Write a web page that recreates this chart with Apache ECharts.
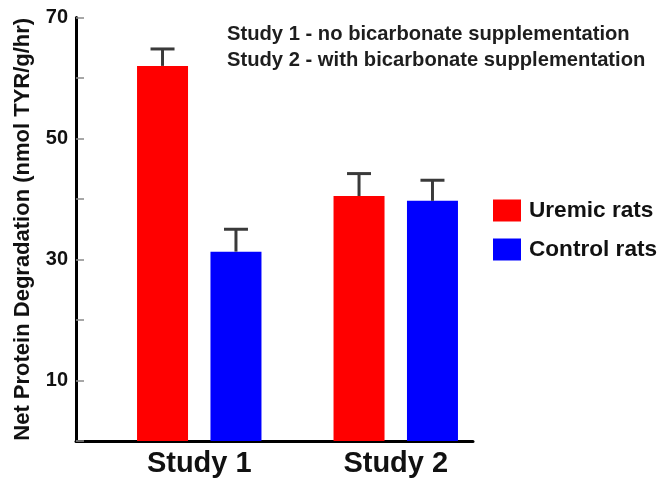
<!DOCTYPE html>
<html>
<head>
<meta charset="utf-8">
<script src="https://cdn.jsdelivr.net/npm/echarts@6/dist/echarts.min.js"></script>
<style>
  html, body { margin: 0; padding: 0; background: #fff; }
  #chart { width: 661px; height: 483px; }
</style>
</head>
<body>
<div id="chart"></div>
<script>
// Net protein degradation, uremic vs control rats, two studies
const categories = ['Study 1', 'Study 2'];
const seriesNames = ['Uremic rats', 'Control rats'];
const uremicRats = [62.0, 40.5];
const controlRats = [31.3, 39.7];
const uremicSem = [2.8, 3.7];
const controlSem = [3.7, 3.4];
const yTickLabels = [10, 30, 50, 70];
const notes = [
  'Study 1 - no bicarbonate supplementation',
  'Study 2 - with bicarbonate supplementation'
];

const FONT = '"Liberation Sans", Arial, Helvetica, sans-serif';
const BAR_W = 51;
const BAR_GAP = 0.44;
const HALF_STEP = BAR_W * (1 + BAR_GAP) / 2;
const CAP_HALF = 12;

// upper-only error bar (stem + cap) on top of each bar
function errorBars(values, sems, side) {
  return {
    type: 'custom',
    xAxisIndex: 1,
    yAxisIndex: 1,
    z: 5,
    silent: true,
    data: values.map((v, i) => [i, v, v + sems[i]]),
    renderItem(params, api) {
      const base = api.coord([api.value(0), api.value(1)]);
      const top = api.coord([api.value(0), api.value(2)]);
      const x = base[0] + side * HALF_STEP;
      const style = { stroke: '#3a3a3a', lineWidth: 3 };
      return {
        type: 'group',
        children: [
          { type: 'line', shape: { x1: x, y1: base[1], x2: x, y2: top[1] }, style },
          { type: 'line', shape: { x1: x - CAP_HALF, y1: top[1], x2: x + CAP_HALF, y2: top[1] }, style }
        ]
      };
    }
  };
}

const chart = echarts.init(document.getElementById('chart'), null, { renderer: 'canvas' });

chart.setOption({
  backgroundColor: '#ffffff',
  animation: false,
  textStyle: { fontFamily: FONT },
  title: {
    text: notes.join('\n'),
    left: 227,
    top: 21,
    padding: 0,
    textStyle: { fontFamily: FONT, fontSize: 20.2, fontWeight: 'bold', lineHeight: 26, color: '#1e1e1e' }
  },
  legend: {
    data: seriesNames,
    orient: 'vertical',
    left: 493,
    top: 199,
    padding: 0,
    itemWidth: 28,
    itemHeight: 22,
    itemGap: 16,
    icon: 'rect',
    selectedMode: false,
    textStyle: { fontFamily: FONT, fontSize: 22.6, fontWeight: 'bold', color: '#111', padding: [0, 0, 0, 3] }
  },
  grid: [
    // frame grid: carries the visible axes
    { left: 76, right: 188, top: 17.5, bottom: 42 },
    // bar grid: carries the bars and category labels
    { left: 101, width: 393, top: 17.5, bottom: 42 }
  ],
  xAxis: [
    {
      gridIndex: 0,
      type: 'category',
      data: categories,
      axisLine: { lineStyle: { color: '#000', width: 3 } },
      axisTick: { show: false },
      axisLabel: { show: false }
    },
    {
      gridIndex: 1,
      type: 'category',
      data: categories,
      axisLine: { show: false },
      axisTick: { show: false },
      axisLabel: { fontFamily: FONT, fontSize: 29, fontWeight: 'bold', color: '#111', margin: 8 }
    }
  ],
  yAxis: [
    {
      gridIndex: 0,
      type: 'value',
      min: 0,
      max: 70,
      interval: 10,
      name: 'Net Protein Degradation (nmol TYR/g/hr)',
      nameLocation: 'middle',
      nameGap: 42,
      nameTextStyle: { fontFamily: FONT, fontSize: 22, fontWeight: 'bold', color: '#111' },
      axisLine: { show: true, lineStyle: { color: '#000', width: 3 } },
      axisTick: { show: true, inside: true, length: 8, lineStyle: { color: '#8a8a8a', width: 1.5 } },
      axisLabel: {
        fontFamily: FONT, fontSize: 20, fontWeight: 'bold', color: '#111', margin: 8,
        formatter: v => (yTickLabels.includes(v) ? String(v) : '')
      },
      splitLine: { show: false }
    },
    {
      gridIndex: 1,
      type: 'value',
      min: 0,
      max: 70,
      show: false
    }
  ],
  series: [
    {
      name: seriesNames[0],
      type: 'bar',
      xAxisIndex: 1,
      yAxisIndex: 1,
      data: uremicRats,
      barWidth: BAR_W,
      barGap: (BAR_GAP * 100) + '%',
      itemStyle: { color: '#ff0000' }
    },
    {
      name: seriesNames[1],
      type: 'bar',
      xAxisIndex: 1,
      yAxisIndex: 1,
      data: controlRats,
      barWidth: BAR_W,
      barGap: (BAR_GAP * 100) + '%',
      itemStyle: { color: '#0000ff' }
    },
    errorBars(uremicRats, uremicSem, -1),
    errorBars(controlRats, controlSem, 1)
  ]
});
</script>
</body>
</html>
